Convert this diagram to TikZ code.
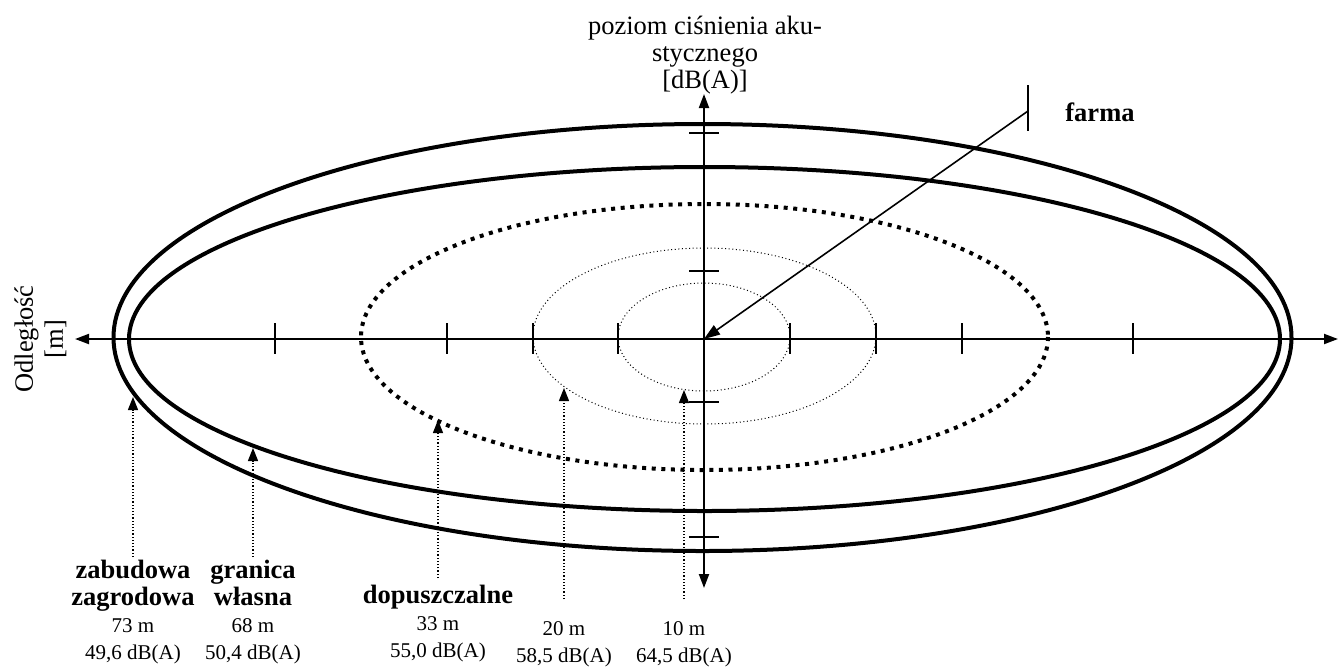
\documentclass[tikz,border=0pt]{standalone}
\usepackage{fontspec}
\setmainfont{Liberation Serif}
\usetikzlibrary{arrows.meta}
\tikzset{
  % noise contours
  iso/.style={line width=2pt},
  isoD/.style={line width=2pt, dash pattern=on 2pt off 2.8pt},
  isoT/.style={line width=0.5pt, dash pattern=on 0.5pt off 1.3pt},
  % axes and ticks
  axisln/.style={{Triangle[length=7pt,width=5pt]}-{Triangle[length=7pt,width=5pt]}, line width=1pt},
  tickmk/.style={line width=0.8pt},
  % text
  axlab/.style={font=\fontsize{13.25}{13.5}\selectfont, align=center, inner sep=0pt},
  ttl/.style={font=\fontsize{13.25}{13.5}\selectfont\bfseries, inner sep=0pt},
  val/.style={font=\fontsize{10.5}{13.5}\selectfont, align=center, inner sep=0pt},
  % pointers
  ptr/.style={-{Triangle[length=6.5pt,width=5pt]}, line width=0.6pt, dash pattern=on 0.6pt off 1pt},
  farr/.style={-{Triangle[length=8pt,width=5.5pt]}, line width=0.8pt},
}
\newcommand{\hd}[1]{{\fontsize{13.25}{13.5}\selectfont\bfseries #1}}

\begin{document}
\begin{tikzpicture}[x=0.5pt,y=-0.5pt]
  \useasboundingbox (0,0) rectangle (1344,666);

  \coordinate (O) at (704,339);
  \coordinate (xL) at (75,339);
  \coordinate (xR) at (1338,339);
  \coordinate (yT) at (704,94);
  \coordinate (yB) at (704,588);

  % contours
  \draw[iso] (702.5,337.5) ellipse [x radius=589, y radius=213.5];
  \draw[iso] (704.5,339) ellipse [x radius=575.5, y radius=172];
  \draw[isoD] (704.5,337) ellipse [x radius=343.5, y radius=133];
  \draw[isoT] (704.5,336) ellipse [x radius=171.5, y radius=88];
  \draw[isoT] (704,337) ellipse [x radius=86, y radius=54];

  % axes
  \draw[axisln] (xL) -- (xR);
  \draw[axisln] (yB) -- (yT);
  \foreach \t in {275,447,533,618,790,876,962,1133}
    \draw[tickmk] (\t,323) -- (\t,354);
  \foreach \t in {133,271,402,537}
    \draw[tickmk] (689,\t) -- (719,\t);

  \node[axlab] (ylab) at (705,55) {poziom ciśnienia aku-\\stycznego\\{[dB(A)]}};
  \node[axlab, font=\fontsize{13.25}{15}\selectfont, rotate=90] (xlab) at (40.5,339) {Odległość\\{[m]}};

  % farm
  \coordinate (fTop) at (1028,85);
  \coordinate (fBot) at (1028,131);
  \coordinate (fPt) at (1028,111);
  \draw[tickmk] (fTop) -- (fBot);
  \draw[farr] (fPt) -- (O);
  \node[ttl, anchor=west] (farma) at (1065,112) {farma};

  % distance labels
  \node[val, anchor=north] (zab) at (133,560) {\hd{zabudowa}\\\hd{zagrodowa}\\73 m\\49,6 dB(A)};
  \node[val, anchor=north] (gra) at (253,560) {\hd{granica}\\\hd{własna}\\68 m\\50,4 dB(A)};
  \node[val, anchor=north] (dop) at (438,585) {\hd{dopuszczalne}\\33 m\\55,0 dB(A)};
  \node[val, anchor=north] (m20) at (564,621) {20 m\\58,5 dB(A)};
  \node[val, anchor=north] (m10) at (684,621) {10 m\\64,5 dB(A)};

  \coordinate (zabHit) at (133,397);
  \coordinate (graHit) at (253,448);
  \coordinate (dopHit) at (438,420);
  \coordinate (m20Hit) at (564,388);
  \coordinate (m10Hit) at (684,390);
  \draw[ptr, shorten <=1.5pt] (zab) -- (zabHit);
  \draw[ptr, shorten <=1.5pt] (gra) -- (graHit);
  \draw[ptr, shorten <=3.5pt] (dop) -- (dopHit);
  \draw[ptr, shorten <=11pt] (m20) -- (m20Hit);
  \draw[ptr, shorten <=11pt] (m10) -- (m10Hit);
\end{tikzpicture}
\end{document}
